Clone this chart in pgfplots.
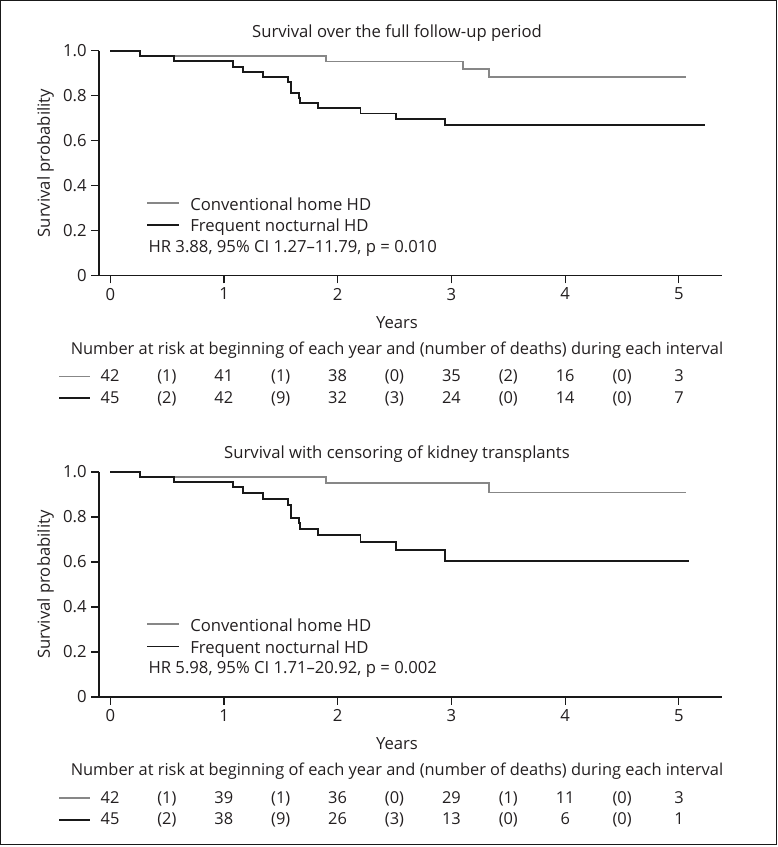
\documentclass[border=0pt]{standalone}
\usepackage{pgfplots}
\pgfplotsset{compat=1.18}
\usepackage{fontspec}
\setmainfont{Open Sans}
\definecolor{kmgray}{RGB}{135,135,135}
\definecolor{kmblack}{RGB}{25,25,25}
\definecolor{txt}{RGB}{35,31,32}
\newcommand\tf{\fontsize{12.5}{14}\selectfont}
\newcommand\hf{\fontsize{12.3}{14}\selectfont}
\pgfplotsset{
  kmaxis/.style={
    anchor=south west, scale only axis, width=467.25pt, height=168.75pt,
    xmin=-0.1, xmax=5.38, ymin=0, ymax=1,
    axis lines=left, axis line style={-, line width=0.9pt, kmblack},
    tick align=outside, major tick length=5.7pt,
    tick style={line width=0.9pt, kmblack},
    xtick={0,1,2,3,4,5}, xticklabels={0,1,2,3,4,5},
    ytick={0,0.2,0.4,0.6,0.8,1}, yticklabels={0,0.2,0.4,0.6,0.8,1.0},
    ticklabel style={font=\tf, text=txt},
    /pgf/number format/assume math mode=true,
    clip=false,
  },
  kmg/.style={const plot, no marks, color=kmgray, line width=1.4pt},
  kmb/.style={const plot, no marks, color=kmblack, line width=1.4pt},
}
\begin{document}
\begin{tikzpicture}
% ---------- top ----------
\begin{axis}[kmaxis, at={(74.25pt,-206.775pt)}]
\addplot[kmg] coordinates {(0,1) (0.258,0.976) (1.90,0.952) (3.10,0.920) (3.33,0.884) (5.06,0.884)};
\addplot[kmb] coordinates {(0,1) (0.258,0.978) (0.557,0.953) (1.079,0.928) (1.167,0.906) (1.343,0.883) (1.56,0.861) (1.59,0.813) (1.656,0.789) (1.67,0.766) (1.83,0.744) (2.20,0.721) (2.51,0.697) (2.946,0.668) (5.23,0.668)};
\end{axis}
% ---------- bottom ----------
\begin{axis}[kmaxis, at={(74.25pt,-522.75pt)}]
\addplot[kmg] coordinates {(0,1) (0.258,0.978) (1.90,0.952) (3.33,0.909) (5.06,0.909)};
\addplot[kmb] coordinates {(0,1) (0.258,0.978) (0.557,0.956) (1.079,0.932) (1.167,0.906) (1.343,0.879) (1.56,0.853) (1.59,0.795) (1.656,0.772) (1.67,0.746) (1.83,0.719) (2.20,0.689) (2.51,0.653) (2.946,0.604) (5.09,0.604)};
\end{axis}
\begin{scope}[x=0.75pt, y=-0.75pt, every node/.style={inner sep=0pt, font=\tf, text=txt}]
\foreach \O/\title/\hr/\ra/\rb in {275.7/{Survival over the full follow-up period}/{HR 3.88, 95\% CI 1.27–11.79, p = 0.010}/{42,(1),41,(1),38,(0),35,(2),16,(0),3}/{45,(2),42,(9),32,(3),24,(0),14,(0),7},
  697/{Survival with censoring of kidney transplants}/{HR 5.98, 95\% CI 1.71–20.92, p = 0.002}/{42,(1),39,(1),36,(0),29,(1),11,(0),3}/{45,(2),38,(9),26,(3),13,(0),6,(0),1}}{
  \node[anchor=base] at (397,\O-238.4) {\title};
  \node[anchor=base, rotate=90] at (50,\O-112.5) {Survival probability};
  \draw[kmgray, line width=1.4pt] (147.3,\O-73) -- (179.3,\O-73);
  \node[anchor=base west] at (190,\O-65.5) {Conventional home HD};
  \draw[kmblack, line width=1.4pt] (147.3,\O-50.5) -- (179.3,\O-50.5);
  \node[anchor=base west] at (190,\O-44) {Frequent nocturnal HD};
  \node[anchor=base west] at (148.3,\O-23.3) {\hr};
  \node[anchor=base] at (397,\O+52.3) {Years};
  \node[anchor=base, font=\hf] at (397,\O+78.6) {Number at risk at beginning of each year and (number of deaths) during each interval};
  \draw[kmgray, line width=1.1pt] (59,\O+101) -- (90,\O+101);
  \draw[kmblack, line width=1.4pt] (59,\O+122.6) -- (90,\O+122.6);
  \foreach \v [count=\i from 0] in \ra { \node[anchor=base, font=\hf] at (110+56.9*\i,\O+106) {\v}; }
  \foreach \v [count=\i from 0] in \rb { \node[anchor=base, font=\hf] at (110+56.9*\i,\O+127.6) {\v}; }
}
\pgfresetboundingbox
\draw[line width=0.9pt, kmblack] (0.7,0.7) rectangle (776.5,844.5);
\useasboundingbox (0,0) rectangle (778,847);
\end{scope}
\end{tikzpicture}
\end{document}
